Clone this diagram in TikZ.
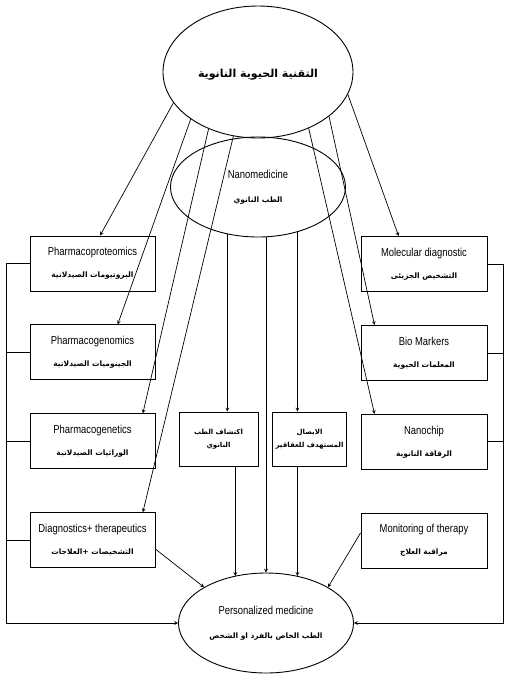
\documentclass[tikz,border=0pt]{standalone}
\usepackage{fontspec}
\setmainfont{Liberation Sans}[FakeStretch=0.82]
\newfontfamily\arabicfont[Script=Arabic]{DejaVu Sans}
\TeXXeTstate=1
\newcommand{\artxt}[1]{{\arabicfont\bfseries\beginR #1\endR}}
\usetikzlibrary{shapes.geometric, arrows, positioning, calc}

\begin{document}
\begin{tikzpicture}[x=1pt, y=-1pt, node distance=33pt]
        \tikzstyle{oval} = [ellipse, draw=black, line width=0.9pt, inner sep=0pt, align=center, font=\fontsize{11.5}{12}\selectfont]
        \tikzstyle{block} = [rectangle, draw=black, line width=0.9pt, minimum width=125pt, minimum height=55pt, align=center, font=\fontsize{11.5}{12}\selectfont]
        \tikzstyle{midblock} = [rectangle, draw=black, line width=0.9pt, minimum height=54pt, align=center, font=\fontsize{7}{8}\selectfont]
        \tikzstyle{arrow} = [line width=0.7pt,->,>=stealth]
        \tikzstyle{link} = [line width=0.7pt]

        \useasboundingbox (0,0) rectangle (509,678);

        \node (bio) [oval, minimum width=190pt, minimum height=132pt] at (258,72) {\\[2pt]\fontsize{11}{13}\selectfont\artxt{التقنية الحيوية النانوية}};
        \node (nano) [oval, minimum width=175pt, minimum height=100pt] at (258,187) {Nanomedicine\\[12pt]\fontsize{7.5}{9}\selectfont\artxt{الطب النانوي}};
        \node (pers) [oval, minimum width=175pt, minimum height=100pt] at (266,623) {Personalized medicine\\[12pt]\fontsize{7.5}{9}\selectfont\artxt{الطب الخاص بالفرد او الشخص}};

        % left column
        \node (prot) [block] at (92.5,263.5) {Pharmacoproteomics\\[10pt]\fontsize{7.5}{9}\selectfont\artxt{البروتيومات الصيدلانية}};
        \node (gnm) [block, below=of prot] {Pharmacogenomics\\[10pt]\fontsize{7.5}{9}\selectfont\artxt{الجينوميات الصيدلانية}};
        \node (gnt) [block, below=of gnm] {Pharmacogenetics\\[10pt]\fontsize{7.5}{9}\selectfont\artxt{الوراثيات الصيدلانية}};
        \node (diag) [block, below=43pt of gnt] {Diagnostics+ therapeutics\\[10pt]\fontsize{7.5}{9}\selectfont\artxt{التشخيصات +العلاجات}};

        % right column
        \node (mol) [block, minimum width=126pt] at (424,264) {Molecular diagnostic\\[10pt]\fontsize{7.5}{9}\selectfont\artxt{التشخيص الجزيئى}};
        \node (bmk) [block, minimum width=126pt, below=of mol] {Bio Markers\\[10pt]\fontsize{7.5}{9}\selectfont\artxt{المعلمات الحيوية}};
        \node (chip) [block, minimum width=126pt, below=of bmk] {Nanochip\\[10pt]\fontsize{7.5}{9}\selectfont\artxt{الرقاقة النانوية}};
        \node (mon) [block, minimum width=126pt, below=43pt of chip] {Monitoring of therapy\\[10pt]\fontsize{7.5}{9}\selectfont\artxt{مراقبة العلاج}};

        % middle
        \node (disc) [midblock, minimum width=79pt] at (218.5,439) {\artxt{اكتشاف الطب}\\[5pt]\artxt{النانوي}};
        \node (deliv) [midblock, minimum width=71pt] at (309.5,439) {\artxt{الايصال}\\[5pt]\artxt{المستهدف للعقاقير}};

        \coordinate (lb) at (6,0);
        \coordinate (rb) at (503,0);
        \coordinate (discin) at ($(disc.north west)!0.61!(disc.north east)$);
        \coordinate (discout) at ($(disc.south west)!0.71!(disc.south east)$);
        \coordinate (delin) at ($(deliv.north west)!0.34!(deliv.north east)$);

        \draw [arrow] (bio.200) -- ($(prot.north west)!0.56!(prot.north east)$);
        \draw [arrow] (bio.215) -- ($(gnm.north west)!0.70!(gnm.north east)$);
        \draw [arrow] (bio.229) -- ($(gnt.north west)!0.90!(gnt.north east)$);
        \draw [arrow] (bio.249) -- ($(diag.north west)!0.90!(diag.north east)$);
        \draw [arrow] (bio.-14) -- ($(mol.north west)!0.30!(mol.north east)$);
        \draw [arrow] (bio.-32) -- ($(bmk.north west)!0.11!(bmk.north east)$);
        \draw [arrow] (bio.-48) -- ($(chip.north west)!0.11!(chip.north east)$);

        \draw [arrow] (discin |- nano.-124) -- (discin);
        \draw [arrow] (delin |- nano.-48) -- (delin);
        \draw [arrow] (nano.south -| pers.north) -- (pers.north);
        \draw [arrow] (discout) -- (discout |- pers.124);
        \draw [arrow] (deliv.south -| delin) -- (delin |- pers.56);

        \draw [arrow] (prot.west) -| (lb |- pers.west) -- (pers.west);
        \draw [link] (gnm.west) -- (gnm.west -| lb);
        \draw [link] (gnt.west) -- (gnt.west -| lb);
        \draw [link] (diag.west) -- (diag.west -| lb);
        \draw [arrow] (mol.east) -| (rb |- pers.east) -- (pers.east);
        \draw [link] (bmk.east) -- (bmk.east -| rb);
        \draw [link] (chip.east) -- (chip.east -| rb);

        \draw [arrow] (diag.-8) -- (pers.150);
        \draw [arrow] (mon.173) -- (pers.30);
    \end{tikzpicture}
\end{document}
